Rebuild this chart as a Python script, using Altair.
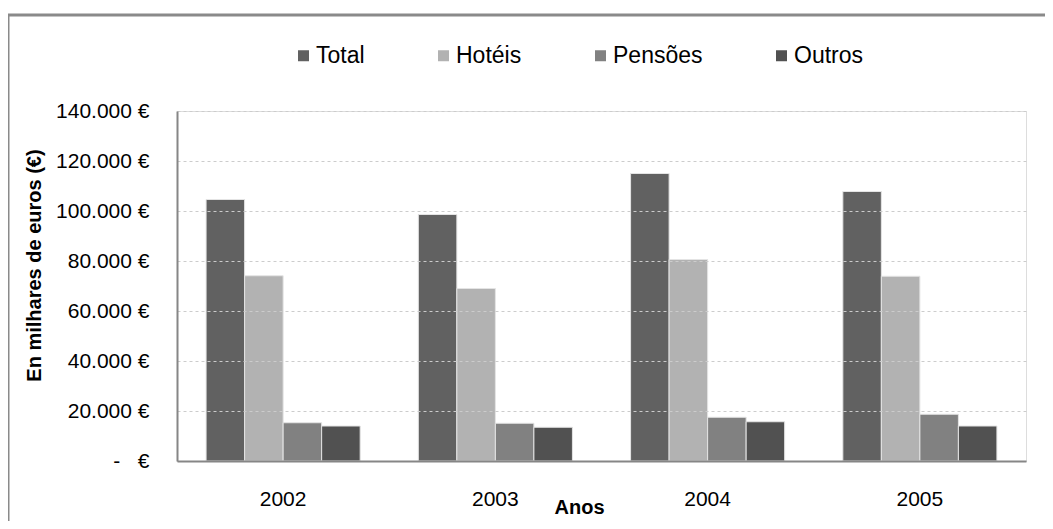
import altair as alt
import pandas as pd

years = ["2002", "2003", "2004", "2005"]
series = ["Total", "Hotéis", "Pensões", "Outros"]
total = [104600, 98600, 115000, 107800]
hoteis = [74100, 69000, 80600, 73900]
pensoes = [15300, 15100, 17500, 18700]
outros = [14000, 13500, 15700, 14000]
colors = ["#616161", "#b2b2b2", "#818181", "#515151"]
y_ticks = [0, 20000, 40000, 60000, 80000, 100000, 120000, 140000]

rows = []
for s, vals in zip(series, [total, hoteis, pensoes, outros]):
    for yr, v in zip(years, vals):
        rows.append({"Ano": yr, "Série": s, "Valor": v})
df = pd.DataFrame(rows)

FONT = "Liberation Sans"
NB = "\u00a0"
label_expr = (
    "datum.value == 0 ? '-" + NB * 3 + "€' : "
    "replace(format(datum.value, ',d'), ',', '.') + ' €'"
)

bars = alt.Chart(df).mark_bar(stroke="#e4e4e4", strokeWidth=1).encode(
    x=alt.X(
        "Ano:N",
        sort=years,
        scale=alt.Scale(paddingInner=0.274, paddingOuter=0.137),
        axis=alt.Axis(
            title="Anos", labelAngle=0, labelFontSize=21, labelFont=FONT,
            labelColor="black", labelBaseline="alphabetic", labelPadding=44,
            ticks=False, tickSize=0, domainColor="#868686", domainWidth=2,
            grid=False, titleX=402, titleY=52, titleBaseline="alphabetic",
            titleAlign="center", titleFontSize=20, titleFont=FONT,
            titleFontWeight="bold", titleColor="black", zindex=1,
        ),
    ),
    xOffset=alt.XOffset("Série:N", sort=series, scale=alt.Scale(domain=series)),
    y=alt.Y(
        "Valor:Q",
        scale=alt.Scale(domain=[0, 140000], nice=False),
        axis=alt.Axis(
            values=y_ticks, labelExpr=label_expr, title="En milhares de euros (€)",
            titleFontWeight="bold", titleFontSize=20, titleFont=FONT,
            titleColor="black", titleX=-143, titleY=154, titleAngle=270,
            titleAlign="center", titleBaseline="middle",
            labelFontSize=21, labelFont=FONT, labelColor="black",
            labelPadding=28, labelAlign="right", labelBaseline="middle",
            ticks=False, tickSize=0, domainColor="#868686", domainWidth=2,
            gridColor="#cccccc", gridDash=[3, 3], gridWidth=1, zindex=1,
        ),
    ),
    color=alt.Color(
        "Série:N",
        scale=alt.Scale(domain=series, range=colors),
        title=None,
        legend=alt.Legend(
            orient="none", legendX=115, legendY=-67, direction="horizontal",
            symbolType="square", symbolSize=121, symbolStrokeWidth=0,
            labelFontSize=23, labelFont=FONT, labelColor="black",
            columnPadding=67, labelOffset=1, padding=0,
        ),
    ),
)

border = alt.Chart(pd.DataFrame({"k": [0]})).mark_rect(
    fillOpacity=0, stroke="#8a8a8a", strokeWidth=3
).encode(
    x=alt.value(-169), x2=alt.value(2000), y=alt.value(-96), y2=alt.value(2000)
)

chart = alt.layer(border, bars).properties(
    width=849,
    height=350,
    padding={"left": 169, "top": 103, "right": 19, "bottom": 60},
    autosize=alt.AutoSizeParams(type="none"),
).configure_view(stroke="transparent").configure(font=FONT)

chart.save("out.html", embed_options={"renderer": "svg", "actions": False})
